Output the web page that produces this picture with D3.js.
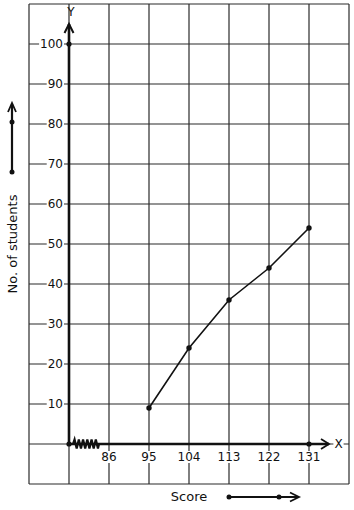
<!DOCTYPE html>
<html><head><meta charset="utf-8">
<script src="https://cdn.jsdelivr.net/npm/d3@7/dist/d3.min.js"></script>
<style>body{margin:0;background:#fff}svg{display:block}text{font-family:"DejaVu Sans",sans-serif;fill:#111}</style>
</head><body><svg id="c" width="354" height="510"></svg>
<script>
const scores = [95, 104, 113, 122, 131];
const students = [9, 24, 36, 44, 54];
const xTickLabels = [86, 95, 104, 113, 122, 131];
const yTickLabels = [10, 20, 30, 40, 50, 60, 70, 80, 90, 100];
const xGridValues = [68, 77, 86, 95, 104, 113, 122, 131, 140];
const yGridValues = [-10, 0, 10, 20, 30, 40, 50, 60, 70, 80, 90, 100, 110];
const xOrigin = 77;
const yTitle = "No. of students";
const xTitle = "Score";

const svg = d3.select("#c");
const x = d3.scaleLinear().domain([68, 140]).range([29, 349]);
const y = d3.scaleLinear().domain([-10, 110]).range([484, 4]);
const ink = "#111";

function labelBg(parent, t) {
  const b = t.node().getBBox();
  parent.insert("rect", () => t.node()).attr("x", b.x - 1).attr("y", b.y + 1)
    .attr("width", b.width + 2).attr("height", b.height - 2).attr("fill", "#fff");
}

// grid
const g = svg.append("g").attr("stroke", "#2a2a2a").attr("stroke-width", 1.2);
xGridValues.forEach(v => g.append("line").attr("x1", x(v)).attr("x2", x(v)).attr("y1", y(110)).attr("y2", y(-10)));
yGridValues.forEach(v => g.append("line").attr("x1", x(68)).attr("x2", x(140)).attr("y1", y(v)).attr("y2", y(v)));

// tick labels with white background
const yl = svg.append("g");
yTickLabels.forEach(v => {
  const t = yl.append("text").attr("x", x(xOrigin) - 6).attr("y", y(v)).attr("dy", "0.36em")
    .attr("text-anchor", "end").attr("font-size", 12).text(v);
  labelBg(yl, t);
});
const xl = svg.append("g");
xTickLabels.forEach(v => {
  const t = xl.append("text").attr("x", x(v)).attr("y", y(0) + 17).attr("text-anchor", "middle").attr("font-size", 12).text(v);
  labelBg(xl, t);
});

// axes
const ox = x(xOrigin), oy = y(0);
svg.append("line").attr("x1", ox).attr("x2", ox).attr("y1", oy).attr("y2", y(105)).attr("stroke", ink).attr("stroke-width", 2.6);
svg.append("path").attr("d", `M${ox-4.5},${y(105)+9}L${ox},${y(105)}L${ox+4.5},${y(105)+9}`).attr("fill", "none").attr("stroke", ink).attr("stroke-width", 2);
svg.append("line").attr("x1", ox).attr("x2", x(135.5)).attr("y1", oy).attr("y2", oy).attr("stroke", ink).attr("stroke-width", 2.6);
svg.append("path").attr("d", `M${x(135.5)-8},${oy-5}L${x(135.5)},${oy}L${x(135.5)-8},${oy+5}`).attr("fill", "none").attr("stroke", ink).attr("stroke-width", 1.8);

// axis letters
const al = svg.append("g");
al.append("text").attr("x", ox + 2).attr("y", 16).attr("text-anchor", "middle").attr("font-size", 12).text("Y");
const xt = al.append("text").attr("x", x(135.5) + 9.5).attr("y", oy).attr("dy", "0.36em").attr("text-anchor", "middle").attr("font-size", 12).text("X");
labelBg(al, xt);

// zigzag axis break
let zz = `M${ox + 4},${oy}`;
const zx0 = ox + 4.5, zx1 = ox + 30, n = 6, step = (zx1 - zx0) / n;
for (let i = 0; i < n; i++) {
  zz += `L${zx0 + step * i + step / 4},${oy - 4.5}L${zx0 + step * i + 3 * step / 4},${oy + 4.5}`;
}
zz += `L${zx1},${oy}`;
svg.append("path").attr("d", zz).attr("fill", "none").attr("stroke", ink).attr("stroke-width", 2.2);

// axis dots
[[ox, oy], [ox, y(100)], [x(131), oy]].forEach(p => svg.append("circle").attr("cx", p[0]).attr("cy", p[1]).attr("r", 2.6).attr("fill", ink));

// data line
const pts = scores.map((s, i) => [s, students[i]]);
svg.append("path").datum(pts).attr("d", d3.line().x(d => x(d[0])).y(d => y(d[1])))
  .attr("fill", "none").attr("stroke", ink).attr("stroke-width", 1.6);
svg.selectAll("circle.pt").data(pts).join("circle").attr("class", "pt")
  .attr("cx", d => x(d[0])).attr("cy", d => y(d[1])).attr("r", 2.7).attr("fill", ink);

// y title + arrow
svg.append("text").attr("transform", `translate(17,${y(50)}) rotate(-90)`).attr("text-anchor", "middle").attr("font-size", 13).text(yTitle);
const ax = 12;
svg.append("line").attr("x1", ax).attr("x2", ax).attr("y1", 172).attr("y2", 104).attr("stroke", ink).attr("stroke-width", 2.2);
svg.append("path").attr("d", `M${ax-4},${112}L${ax},${103}L${ax+4},${112}`).attr("fill", "none").attr("stroke", ink).attr("stroke-width", 1.8);
[[ax, 172], [ax, 122]].forEach(p => svg.append("circle").attr("cx", p[0]).attr("cy", p[1]).attr("r", 2.5).attr("fill", ink));

// x title + arrow
svg.append("text").attr("x", 189).attr("y", 501).attr("text-anchor", "middle").attr("font-size", 13).text(xTitle);
const ay = 497;
svg.append("line").attr("x1", 229).attr("x2", 298).attr("y1", ay).attr("y2", ay).attr("stroke", ink).attr("stroke-width", 2.2);
svg.append("path").attr("d", `M${290},${ay-4.5}L${299},${ay}L${290},${ay+4.5}`).attr("fill", "none").attr("stroke", ink).attr("stroke-width", 1.8);
[[229, ay], [279, ay]].forEach(p => svg.append("circle").attr("cx", p[0]).attr("cy", p[1]).attr("r", 2.5).attr("fill", ink));
</script></body></html>
